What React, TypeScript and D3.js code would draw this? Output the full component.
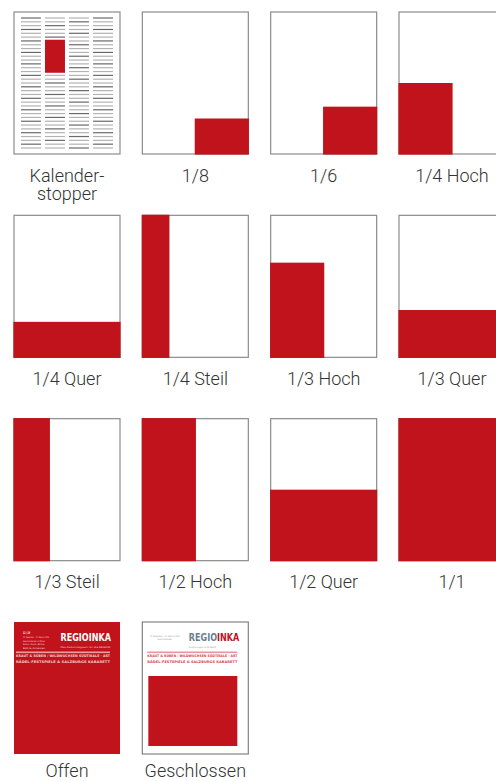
import React, { useEffect, useRef } from "react";
import * as d3 from "d3";

// ad formats, in reading order (4 per row)
const formatLabels = [
  ["Kalender-", "stopper"],
  ["1/8"],
  ["1/6"],
  ["1/4 Hoch"],
  ["1/4 Quer"],
  ["1/4 Steil"],
  ["1/3 Hoch"],
  ["1/3 Quer"],
  ["1/3 Steil"],
  ["1/2 Hoch"],
  ["1/2 Quer"],
  ["1/1"]
];
// share of the page taken by the ad (x, y, width, height as page fractions)
const adX = [0, 0.5, 0.5, 0, 0, 0, 0, 0, 0, 0, 0, 0];
const adY = [0, 0.75, 2 / 3, 0.5, 0.75, 0, 1 / 3, 2 / 3, 0, 0, 0.5, 0];
const adW = [0, 0.5, 0.5, 0.5, 1, 0.25, 0.5, 1, 1 / 3, 0.5, 1, 1];
const adH = [0, 0.25, 1 / 3, 0.5, 0.25, 1, 2 / 3, 1 / 3, 1, 1, 0.5, 1];

// kalenderstopper: 4 text columns x 35 lines, ad sits in column 2, lines 6-14
const calColumns = [0, 1, 2, 3];
const calLines = d3.range(35);
const calAdColumn = 1;
const calAdLines = [6, 14];

const coverLabels = ["Offen", "Geschlossen"];
const coverDates = ["22. Dezember – 14. Februar 2019", "Gesamtkalender im Monat", "Kultur, Kunst, Bühne,", "Bild & Ameisen"];
const coverHeadlines = [
  "KRAUT & RÜBEN / WILDWUCHSEN SÜDTIRALE · ART",
  "RÄDEL-FESTSPIELE & SALZBURGS KABARETT"
];

const RED = "#c1131c";
const BORDER = "#8c8c8c";
const TEXT = "#333";

export default function App() {
  const ref = useRef<SVGSVGElement>(null);

  useEffect(() => {
    const svg = d3.select(ref.current);
    svg.selectAll("*").remove();

    const boxW = 106;
    const boxH = 142;
    const coverH = 132;

    const colX = d3.scaleLinear().domain([0, 3]).range([14, 399]);
    const rowY = d3.scaleLinear().domain([0, 3]).range([12, 622]);

    const label = (cx: number, y: number, lines: string[]) => {
      lines.forEach((t, i) => {
        svg
          .append("text")
          .attr("x", cx)
          .attr("y", y + i * 18)
          .attr("text-anchor", "middle")
          .attr("font-family", "Roboto, sans-serif")
          .attr("font-weight", 300)
          .attr("font-size", 18)
          .attr("fill", TEXT)
          .text(t);
      });
    };

    formatLabels.forEach((lines, i) => {
      const x0 = colX(i % 4);
      const y0 = rowY(Math.floor(i / 4));
      const xs = d3.scaleLinear().domain([0, 1]).range([x0, x0 + boxW]);
      const ys = d3.scaleLinear().domain([0, 1]).range([y0, y0 + boxH]);

      svg
        .append("rect")
        .attr("x", xs(0))
        .attr("y", ys(0))
        .attr("width", boxW)
        .attr("height", boxH)
        .attr("fill", "#fff")
        .attr("stroke", BORDER)
        .attr("stroke-width", 1.2);

      if (i === 0) {
        // columns of text lines
        const cx = d3.scaleBand().domain(calColumns.map(String)).range([x0 + 7, x0 + boxW - 7]).paddingInner(0.17);
        const ly = d3.scaleLinear().domain([0, calLines.length - 1]).range([y0 + 6, y0 + 136]);
        calColumns.forEach(c => {
          svg
            .selectAll(".cl" + c)
            .data(calLines)
            .enter()
            .append("rect")
            .attr("x", cx(String(c)))
            .attr("y", d => ly(d) - 0.6)
            .attr("width", cx.bandwidth())
            .attr("height", 1.2)
            .attr("fill", d => ((d + c) % 3 === 0 ? "#6a6a6a" : "#b3b3b3"));
        });
        svg
          .append("rect")
          .attr("x", cx(String(calAdColumn)))
          .attr("y", ly(calAdLines[0]) - 1.2)
          .attr("width", cx.bandwidth())
          .attr("height", ly(calAdLines[1]) - ly(calAdLines[0]) + 2.4)
          .attr("fill", RED);
      } else {
        svg
          .append("rect")
          .attr("x", xs(adX[i]) - 0.6)
          .attr("y", ys(adY[i]) - (adY[i] === 0 ? 0.6 : 0))
          .attr("width", xs(adX[i] + adW[i]) - xs(adX[i]) + 1.2)
          .attr("height", ys(adY[i] + adH[i]) - ys(adY[i]) + (adY[i] === 0 ? 1.2 : 0.6))
          .attr("fill", RED);
      }

      label(x0 + boxW / 2, y0 + boxH + 27.5, lines);
    });

    // covers
    const tiny = (x: number, y: number, t: string, size: number, fill: string, opts: any = {}) => {
      const el = svg
        .append("text")
        .attr("x", x)
        .attr("y", y)
        .attr("font-family", opts.family || "DejaVu Sans, sans-serif")
        .attr("font-size", size)
        .attr("font-weight", opts.weight || "normal")
        .attr("fill", fill)
        .attr("text-anchor", opts.anchor || "start")
        .text(t);
      if (opts.len) el.attr("textLength", opts.len).attr("lengthAdjust", "spacingAndGlyphs");
      return el;
    };

    coverLabels.forEach((name, i) => {
      const ox = colX(i);
      const oy = rowY(3);
      const closed = i === 1;

      svg
        .append("rect")
        .attr("x", ox)
        .attr("y", oy)
        .attr("width", boxW)
        .attr("height", coverH)
        .attr("fill", closed ? "#fff" : RED)
        .attr("stroke", closed ? BORDER : "none")
        .attr("stroke-width", 1.3);

      const ink = closed ? "#9a9a9a" : "#f6d6d8";
      if (!closed) {
        tiny(ox + 9, oy + 12, "12 | 18", 3.4, "#fff", { weight: "bold", len: 7 });
        coverDates.forEach((t, k) => tiny(ox + 9, oy + 16 + k * 3.5, t, 2.4, ink, { len: k === 0 ? 26 : 22 }));
      } else {
        tiny(ox + 22.5, oy + 14.5, coverDates[0], 2.4, ink, { anchor: "middle", len: 30 });
        tiny(ox + 22.5, oy + 18, "Kulturkalender", 2.4, ink, { anchor: "middle", len: 14 });
      }

      // logo
      const logo = svg
        .append("text")
        .attr("x", ox + 46.5)
        .attr("y", oy + 19)
        .attr("font-family", "DejaVu Sans Condensed, DejaVu Sans, sans-serif")
        .attr("font-weight", "bold")
        .attr("font-size", 10.5)
        .attr("textLength", 50.5)
        .attr("lengthAdjust", "spacingAndGlyphs");
      logo.append("tspan").attr("fill", closed ? "#6b7f93" : "#fff").text("REGIO");
      logo.append("tspan").attr("fill", closed ? RED : "#fff").text("INKA");
      tiny(ox + 46.5, oy + 25.5, "Das Kulturmagazin für die REGION", 2.4, ink, { len: closed ? 27 : 50 });

      // headline band
      const bx = closed ? ox + 5 : ox + 2;
      const bw = closed ? 90 : 94;
      svg
        .append("rect")
        .attr("x", bx)
        .attr("y", oy + 29.5)
        .attr("width", bw)
        .attr("height", 1.6)
        .attr("fill", closed ? "#e8969b" : "#ea9ea2");
      coverHeadlines.forEach((t, k) =>
        tiny(bx, oy + 35 + k * 5.5, t, 3.4, closed ? "#d0474e" : "#f3c9cb", { weight: "bold", len: bw })
      );

      if (closed) {
        svg
          .append("rect")
          .attr("x", ox + 6)
          .attr("y", oy + 54)
          .attr("width", 89)
          .attr("height", 70)
          .attr("fill", RED);
      }

      label(ox + boxW / 2, 776.5, [name]);
    });
  }, []);

  return (
    <svg
      ref={ref}
      width={496}
      height={781}
      style={{ position: "absolute", left: 0, top: 0, background: "#fff" }}
    />
  );
}
